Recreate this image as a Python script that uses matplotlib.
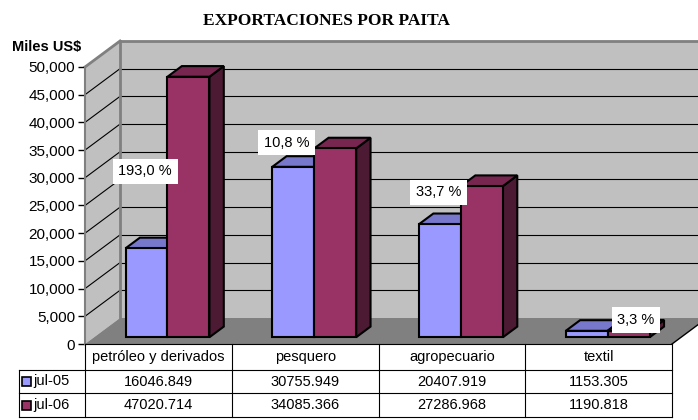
import numpy as np
import matplotlib.pyplot as plt
from matplotlib.patches import Polygon, Rectangle
from matplotlib.lines import Line2D

plt.rcParams['font.family'] = ['Liberation Sans', 'DejaVu Sans']

categorias = ['petróleo y derivados', 'pesquero', 'agropecuario', 'textil']
series = ['jul-05', 'jul-06']
jul05 = [16046.849, 30755.949, 20407.919, 1153.305]
jul06 = [47020.714, 34085.366, 27286.968, 1190.818]
variacion = ['193,0 %', '10,8 %', '33,7 %', '3,3 %']
# where the text boxes sit (category position, value)
label_x = [-0.09, 0.874, 1.91, 3.255]
label_y = [31200, 36300, 27400, 4330]
yticks = list(range(0, 50001, 5000))

front_col = ['#9999FF', '#993366']
top_col = ['#7777CC', '#772650']
side_col = ['#4D4D80', '#4C1A33']

W, H = 698, 420
fig = plt.figure(figsize=(W / 100, H / 100), dpi=100)
ax = fig.add_axes([85 / W, 76 / H, 587 / W, 277 / H])
ax.set_autoscale_on(False)
ax.set_xlim(-0.5, 3.5)
ax.set_ylim(0, 50000)
ax.patch.set_visible(False)
for s in ['top', 'right', 'bottom']:
    ax.spines[s].set_visible(False)
ax.spines['left'].set_color('#808080')
ax.spines['left'].set_linewidth(1.5)
ax.set_xticks([])
ax.set_yticks(yticks)
ax.set_yticklabels([f'{v:,}' for v in yticks], fontsize=11)
ax.tick_params(axis='y', direction='out', length=5, width=1, color='black', pad=2)

DX, DY = 35, 26  # depth of the 3d box, pixels
inv = fig.transFigure.inverted()


def P(x, v, d=0.0):
    px, py = ax.transData.transform((x, v))
    return inv.transform((px + d * DX, py + d * DY))


def px(x, y):
    # pixel position (from top-left) to figure fraction
    return (x / W, 1 - y / H)


def poly(pts, fc, ec, lw, z):
    ax.add_patch(Polygon(pts, closed=True, fc=fc, ec=ec, lw=lw, zorder=z,
                         transform=fig.transFigure, clip_on=False))


def line(p0, p1, color, lw, z):
    ax.add_line(Line2D([p0[0], p1[0]], [p0[1], p1[1]], color=color, lw=lw,
                       zorder=z, transform=fig.transFigure, clip_on=False))


x0, x1 = -0.5, 3.5
ymax = yticks[-1]
# walls and floor
poly([P(x0, 0, 1), P(x1 + 0.3, 0, 1), P(x1 + 0.3, ymax, 1), P(x0, ymax, 1)], '#C0C0C0', 'none', 0, 0.5)
poly([P(x0, 0), P(x0, ymax), P(x0, ymax, 1), P(x0, 0, 1)], '#C0C0C0', 'none', 0, 0.5)
for v in yticks[1:]:
    line(P(x0, v, 1), P(x1 + 0.3, v, 1), 'black', 0.8, 0.6)
    line(P(x0, v), P(x0, v, 1), 'black', 0.8, 0.6)
line(P(x0, ymax), P(x0, ymax, 1), '#808080', 2, 0.7)
line(P(x0, 0, 1), P(x0, ymax, 1), '#808080', 2, 0.7)
line(P(x0, ymax, 1), P(x1 + 0.3, ymax, 1), '#808080', 2, 0.7)
poly([P(x0, 0), P(x1, 0), P(x1, 0, 1), P(x0, 0, 1)], '#808080', 'none', 0, 0.8)
line(P(x1, 0), P(x1, 0, 1), 'black', 1, 0.9)

# bars
bw = 0.286
d0, d1 = 0.26, 0.67
z = 2
for i in range(len(categorias)):
    for s, vals in enumerate([jul05, jul06]):
        a = i - bw + s * bw
        b = a + bw
        v = vals[i]
        poly([P(b, 0, d0), P(b, 0, d1), P(b, v, d1), P(b, v, d0)], side_col[s], 'black', 1.5, z)
        poly([P(a, v, d0), P(b, v, d0), P(b, v, d1), P(a, v, d1)], top_col[s], 'black', 1.5, z + 0.1)
        poly([P(a, 0, d0), P(b, 0, d0), P(b, v, d0), P(a, v, d0)], front_col[s], 'black', 1.5, z + 0.2)
        z += 1

for t, lx, ly in zip(variacion, label_x, label_y):
    ax.text(lx, ly, t, fontsize=10.5, ha='center', va='center', zorder=20,
            bbox=dict(boxstyle='square,pad=0.38', fc='white', ec='none'), clip_on=False)

# data table
rows_y = [344, 370, 393, 417]
edges_x = [P(x, 0)[0] for x in np.arange(-0.5, 4, 1)]
leg_left = 19 / W
for yy in rows_y:
    fy = px(0, yy)[1]
    left = edges_x[0] if yy == rows_y[0] else leg_left
    line((left, fy), (edges_x[-1], fy), 'black', 0.8, 10)
for k, ex in enumerate(edges_x):
    line((ex, px(0, rows_y[0])[1]), (ex, px(0, rows_y[-1])[1]), 'black', 0.8, 10)
line((leg_left, px(0, rows_y[1])[1]), (leg_left, px(0, rows_y[-1])[1]), 'black', 0.8, 10)

for i, c in enumerate(categorias):
    cx = P(i, 0)[0]
    fig.text(cx, px(0, (rows_y[0] + rows_y[1]) / 2)[1], c, ha='center', va='center', fontsize=10.5)
    for r, vals in enumerate([jul05, jul06]):
        fig.text(cx, px(0, (rows_y[r + 1] + rows_y[r + 2]) / 2)[1], f'{vals[i]:.3f}',
                 ha='center', va='center', fontsize=10.5)

for r, name in enumerate(series):
    yc = (rows_y[r + 1] + rows_y[r + 2]) / 2
    fig.add_artist(Rectangle(px(22, yc + 4.5), 9 / W, 9 / H, fc=front_col[r], ec='black',
                             lw=1.2, transform=fig.transFigure))
    fig.text(*px(33, yc), name, ha='left', va='center', fontsize=10.5)

fig.text(*px(12, 47), 'Miles US$', ha='left', va='center', fontsize=10.5, fontweight='bold')
fig.text(*px(326, 21), 'EXPORTACIONES POR PAITA', ha='center', va='center', fontsize=12.5,
         fontweight='bold', family=['Liberation Serif', 'DejaVu Serif'])

fig.savefig('out.png', dpi=100)
